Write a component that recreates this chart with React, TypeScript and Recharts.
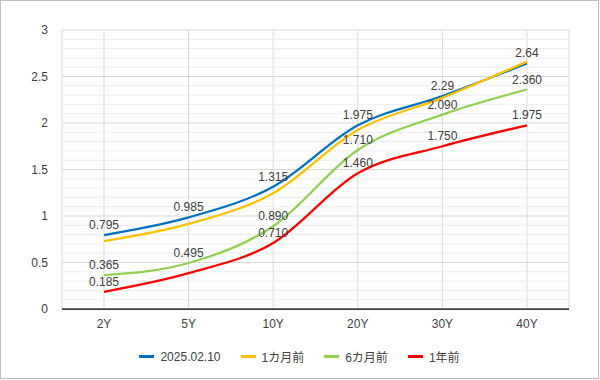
import React from "react";
import {
  CartesianGrid,
  LabelList,
  Legend,
  Line,
  LineChart,
  ReferenceLine,
  XAxis,
  YAxis,
} from "recharts";

const maturities = ["2Y", "5Y", "10Y", "20Y", "30Y", "40Y"];
const latest = [0.795, 0.985, 1.315, 1.975, 2.29, 2.64];
const oneMonthAgo = [0.73, 0.915, 1.245, 1.925, 2.27, 2.66];
const sixMonthsAgo = [0.365, 0.495, 0.89, 1.71, 2.09, 2.36];
const oneYearAgo = [0.185, 0.385, 0.71, 1.46, 1.75, 1.975];

const yTicks = [0, 0.5, 1, 1.5, 2, 2.5, 3];
const minorTicks = [
  0.1, 0.2, 0.3, 0.4, 0.6, 0.7, 0.8, 0.9, 1.1, 1.2, 1.3, 1.4, 1.6, 1.7, 1.8, 1.9,
  2.1, 2.2, 2.3, 2.4, 2.6, 2.7, 2.8, 2.9,
];
// the 5Y point of the 1-year-ago curve carries no label in the original
const hiddenRedLabels = ["5Y"];

const series = [
  { key: "latest", name: "2025.02.10", color: "#0070C0", label: "general" },
  { key: "m1", name: "1カ月前", color: "#FFC000", label: "none" },
  { key: "m6", name: "6カ月前", color: "#92D050", label: "fixed" },
  { key: "y1", name: "1年前", color: "#FF0000", label: "fixed" },
];

const data = maturities.map((m, i) => ({
  m,
  latest: latest[i],
  m1: oneMonthAgo[i],
  m6: sixMonthsAgo[i],
  y1: oneYearAgo[i],
}));

const textColor = "#404040";

function renderLegend() {
  return (
    <div style={{ display: "flex", justifyContent: "center", fontSize: 12, color: textColor }}>
      {series.map((s) => (
        <span key={s.key} style={{ display: "flex", alignItems: "center", margin: "0 10px" }}>
          <span style={{ width: 15, height: 2.5, background: s.color, marginRight: 6 }} />
          {s.name}
        </span>
      ))}
    </div>
  );
}

export default function App() {
  return (
    <div
      style={{
        width: 599,
        height: 379,
        border: "1px solid #BFBFBF",
        boxSizing: "border-box",
        position: "relative",
        background: "#fff",
        fontFamily: "'Liberation Sans', Arial, 'Noto Sans CJK JP', sans-serif",
      }}
    >
      <style>{`body{margin:0}`}</style>
      <LineChart
        width={599}
        height={379}
        data={data}
        margin={{ top: 30, right: 30, left: 0, bottom: 23 }}
        style={{ position: "absolute", left: -1, top: -1 }}
      >
        {minorTicks.map((v) => (
          <ReferenceLine key={v} y={v} stroke="#EDEDED" strokeWidth={1} />
        ))}
        <CartesianGrid stroke="#D9D9D9" />
        <XAxis
          dataKey="m"
          padding={{ left: 42, right: 42 }}
          tickLine={false}
          tickSize={0}
          tickMargin={10}
          axisLine={{ stroke: "#000", strokeWidth: 1.25 }}
          tick={{ fontSize: 12, fill: textColor }}
        />
        <YAxis
          domain={[0, 3]}
          ticks={yTicks}
          width={62}
          axisLine={false}
          tickLine={false}
          tickSize={0}
          tickMargin={14}
          tick={{ fontSize: 12, fill: textColor }}
        />
        <Legend
          content={renderLegend}
          wrapperStyle={{ left: 0, width: 599, bottom: 14 }}
        />
        {series.map((s) => (
          <Line
            key={s.key}
            type="monotone"
            dataKey={s.key}
            name={s.name}
            stroke={s.color}
            strokeWidth={2.25}
            dot={false}
            activeDot={false}
            isAnimationActive={false}
          >
            {s.label !== "none" && (
              <LabelList
                dataKey={s.key}
                position="top"
                offset={5}
                content={(props: any) => {
                  const { x, y, value, index } = props;
                  if (s.key === "y1" && hiddenRedLabels.includes(maturities[index])) return null;
                  const txt = s.label === "fixed" ? Number(value).toFixed(3) : String(value);
                  return (
                    <text x={x} y={y - 6} textAnchor="middle" fontSize={12} fill={textColor}>
                      {txt}
                    </text>
                  );
                }}
              />
            )}
          </Line>
        ))}
      </LineChart>
    </div>
  );
}
